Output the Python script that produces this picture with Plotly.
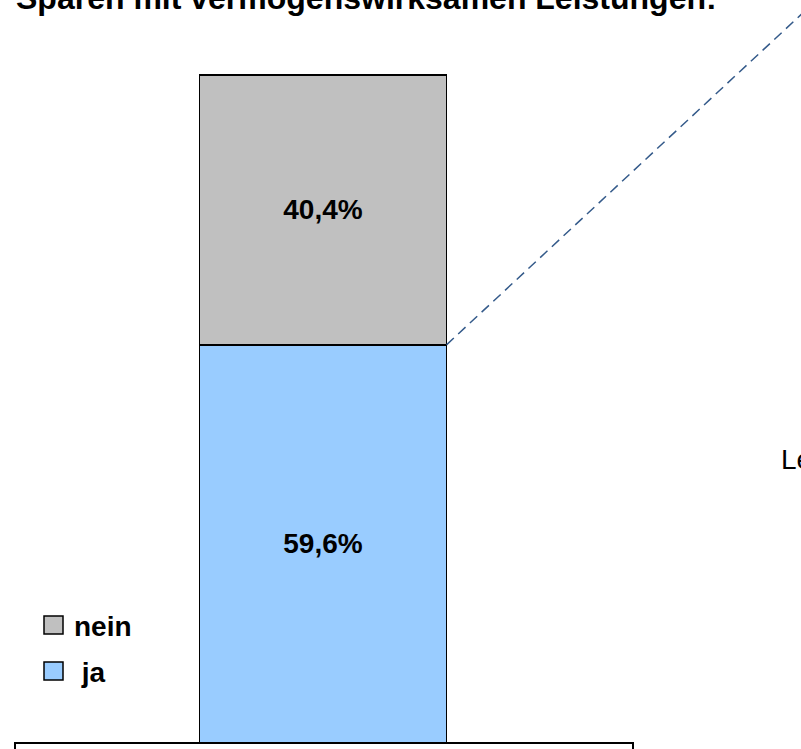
import plotly.graph_objects as go

# --- data -------------------------------------------------------------
title_text = "Sparen mit vermögenswirksamen Leistungen:"
categories = ["ja", "nein"]            # stacked bottom -> top
shares = [59.6, 40.4]                  # percent
bar_colors = ["#99CCFF", "#C0C0C0"]
legend_labels = [" ja", "nein"]
side_text = "Le"

# --- layout constants ------------------------------------------------
W, H = 801, 749
FONT = "Liberation Sans"
X_RANGE = [-1.3077, 1.9352]
Y_RANGE = [-0.898, 111.228]
px_x = W / (X_RANGE[1] - X_RANGE[0])   # pixels per x unit
px_y = H / (Y_RANGE[1] - Y_RANGE[0])   # pixels per y unit


def fmt(v):
    return f"{v:.1f}".replace(".", ",") + "%"


def px(x):
    return x / W


def py(y):
    return 1 - y / H


fig = go.Figure()

for cat, val, col in zip(categories, shares, bar_colors):
    fig.add_trace(go.Bar(
        x=[0], y=[val], width=1, name=cat,
        marker=dict(color=col, line=dict(color="black", width=1.5)),
        text=[fmt(val)], textposition="inside", insidetextanchor="middle",
        textangle=0, constraintext="none",
        textfont=dict(family=FONT, size=28, color="black", weight="bold"),
        showlegend=False, hoverinfo="skip",
    ))

shapes = []
annotations = []

# connector line leaving the top of the "ja" segment
dx_px, dy_px = 380, 354
shapes.append(dict(
    type="line", xref="x", yref="y",
    x0=0.5, y0=shares[0],
    x1=0.5 + dx_px / px_x, y1=shares[0] + dy_px / px_y,
    line=dict(color="#345A8A", width=1.5, dash="10px,6px"),
))

# legend (top entry = top segment)
legend_rows = [(616, 1), (662, 0)]
for top, idx in legend_rows:
    shapes.append(dict(
        type="rect", xref="paper", yref="paper",
        x0=px(44), x1=px(63), y0=py(top + 18), y1=py(top),
        fillcolor=bar_colors[idx], line=dict(color="black", width=1.5),
    ))
    annotations.append(dict(
        xref="paper", yref="paper", x=px(72), y=py(top + 10),
        xanchor="left", yanchor="middle", showarrow=False,
        text=legend_labels[idx],
        font=dict(family=FONT, size=28, color="black", weight="bold"),
    ))

# frame below the chart
shapes.append(dict(
    type="rect", xref="paper", yref="paper",
    x0=px(15), x1=px(633), y0=py(H + 20), y1=py(743),
    line=dict(color="black", width=2), fillcolor="rgba(0,0,0,0)",
))

# title, partly above the page
annotations.append(dict(
    xref="paper", yref="paper", x=px(14), y=py(-2),
    xanchor="left", yanchor="middle", showarrow=False,
    text=title_text,
    font=dict(family=FONT, size=32, color="black", weight="bold"),
))

# text at the right edge
annotations.append(dict(
    xref="paper", yref="paper", x=px(779), y=py(459),
    xanchor="left", yanchor="middle", showarrow=False,
    text=side_text,
    font=dict(family=FONT, size=28, color="black"),
))

fig.update_layout(
    width=W, height=H,
    margin=dict(l=0, r=0, t=0, b=0),
    paper_bgcolor="white", plot_bgcolor="white",
    barmode="stack",
    xaxis=dict(range=X_RANGE, visible=False, fixedrange=True),
    yaxis=dict(range=Y_RANGE, visible=False, fixedrange=True),
    shapes=shapes,
    annotations=annotations,
    showlegend=False,
)

fig.write_html("out.html", config={"displayModeBar": False})
